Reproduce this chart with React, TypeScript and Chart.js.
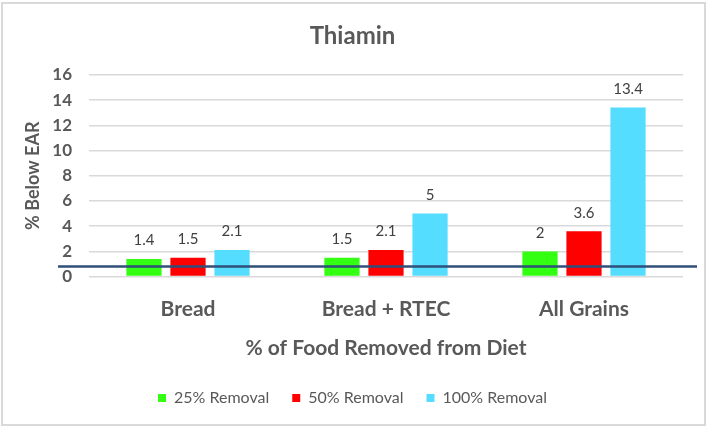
import React, { useEffect, useRef } from "react";
import { Chart, registerables } from "chart.js";

Chart.register(...registerables);

const categories = ["Bread", "Bread + RTEC", "All Grains"];
const seriesNames = ["25% Removal", "50% Removal", "100% Removal"];
const removal25 = [1.4, 1.5, 2];
const removal50 = [1.5, 2.1, 3.6];
const removal100 = [2.1, 5, 13.4];
const seriesColors = ["#33ff12", "#ff0000", "#55ddff"];
const referenceLine = 0.8;
const yMin = 0;
const yMax = 16;
const yStep = 2;

const FONT = "Lato, 'Open Sans', sans-serif";
const GREY = "#595959";

export default function App() {
  const ref = useRef<HTMLCanvasElement | null>(null);
  useEffect(() => {
    document.body.style.margin = "0";
    const canvas = ref.current!;
    const borderPlugin = {
      id: "border",
      beforeDraw(chart: any) {
        const ctx = chart.ctx;
        ctx.save();
        ctx.fillStyle = "#ffffff";
        ctx.fillRect(0, 0, chart.width, chart.height);
        ctx.strokeStyle = "#d9d9d9";
        ctx.lineWidth = 2;
        ctx.strokeRect(2, 3, chart.width - 4, chart.height - 4);
        ctx.restore();
      },
    };
    const refLinePlugin = {
      id: "refLine",
      afterDatasetsDraw(chart: any) {
        const ctx = chart.ctx;
        const y = chart.scales.y.getPixelForValue(referenceLine);
        const a = chart.chartArea;
        ctx.save();
        ctx.strokeStyle = "#2f4e7a";
        ctx.lineWidth = 2.5;
        ctx.beginPath();
        ctx.moveTo(a.left - 31, y);
        ctx.lineTo(a.right + 14, y);
        ctx.stroke();
        ctx.restore();
      },
    };
    const labelPlugin = {
      id: "valueLabels",
      afterDatasetsDraw(chart: any) {
        const ctx = chart.ctx;
        ctx.save();
        ctx.font = `15px ${FONT}`;
        ctx.fillStyle = "#404040";
        ctx.textAlign = "center";
        ctx.textBaseline = "middle";
        chart.data.datasets.forEach((ds: any, i: number) => {
          const meta = chart.getDatasetMeta(i);
          meta.data.forEach((bar: any, j: number) => {
            ctx.fillText(String(ds.data[j]), bar.x, bar.y - 18.5);
          });
        });
        ctx.restore();
      },
    };
    const chart = new Chart(canvas, {
      type: "bar",
      data: {
        labels: categories,
        datasets: [removal25, removal50, removal100].map((d, i) => ({
          label: seriesNames[i],
          data: d,
          backgroundColor: seriesColors[i],
          borderWidth: 0,
          categoryPercentage: 0.667,
          barPercentage: 0.8,
        })),
      },
      options: {
        animation: false,
        responsive: false,
        maintainAspectRatio: false,
        layout: { padding: { left: 22, right: 24, top: 0, bottom: 10 } },
        plugins: {
          title: {
            display: true,
            text: "Thiamin",
            color: GREY,
            font: { family: FONT, size: 24, weight: "bold" },
            padding: { top: 22, bottom: 24 },
          },
          legend: {
            position: "bottom",
            labels: {
              boxWidth: 8,
              boxHeight: 8,
              color: GREY,
              font: { family: FONT, size: 16 },
              padding: 23,
            },
          },
          tooltip: { enabled: false },
        },
        scales: {
          x: {
            grid: { display: false },
            border: { display: false },
            ticks: {
              color: GREY,
              font: { family: FONT, size: 21, weight: "bold" },
              padding: 12,
            },
            title: {
              display: true,
              text: "% of Food Removed from Diet",
              color: GREY,
              font: { family: FONT, size: 21, weight: "bold" },
              padding: { top: 2, bottom: 6 },
            },
          },
          y: {
            min: yMin,
            max: yMax,
            afterFit: (scale: any) => {
              scale.width = 67;
            },
            ticks: {
              stepSize: yStep,
              color: GREY,
              font: { family: FONT, size: 17, weight: "bold" },
              padding: 17,
            },
            grid: { color: "#d9d9d9", lineWidth: 1.5, drawTicks: false },
            border: { display: false },
            title: {
              display: true,
              text: "% Below EAR",
              color: GREY,
              font: { family: FONT, size: 18, weight: "bold" },
              padding: { top: 0, bottom: 8 },
            },
          },
        },
      },
      plugins: [borderPlugin, refLinePlugin, labelPlugin],
    });
    return () => chart.destroy();
  }, []);
  return (
    <div style={{ width: 707, height: 426 }}>
      <canvas ref={ref} width={707} height={426} style={{ display: "block" }} />
    </div>
  );
}
